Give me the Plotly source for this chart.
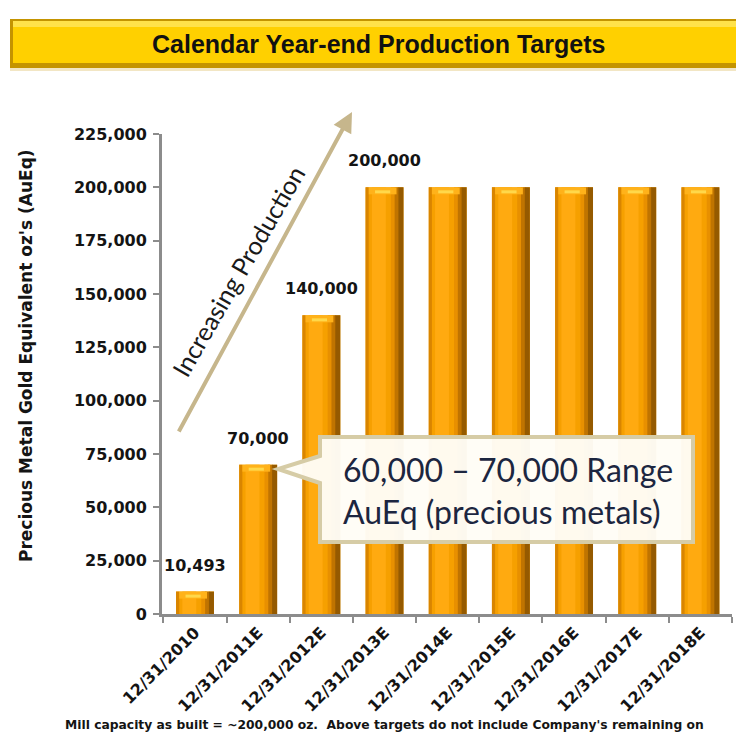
import plotly.graph_objects as go

# Production targets (gold-equivalent ounces) by calendar year end
periods = ["12/31/2010", "12/31/2011E", "12/31/2012E", "12/31/2013E", "12/31/2014E",
           "12/31/2015E", "12/31/2016E", "12/31/2017E", "12/31/2018E"]
ounces = [10493, 70000, 140000, 200000, 200000, 200000, 200000, 200000, 200000]
labelled = [True, True, True, True, False, False, False, False, False]
y_ticks = [0, 25000, 50000, 75000, 100000, 125000, 150000, 175000, 200000, 225000]

title_text = "Calendar Year-end Production Targets"
y_title = "Precious Metal Gold Equivalent oz's (AuEq)"
arrow_text = "Increasing Production"
callout_text = "60,000 \u2013 70,000 Range<br>AuEq (precious metals)"
footnote = ("Mill capacity as built = ~200,000 oz.  Above targets do not include "
            "Company's remaining on")

# figure geometry (pixels)
FW, FH = 736, 735
PL, PR, PT, PB = 162, 732, 134, 614
Y_MAX = 225000


def px(x):
    return (x - PL) / (PR - PL)


def py(y):
    return (PB - y) / (PB - PT)


fig = go.Figure()

# bevelled bars built from overlaid strips
strips = [
    (-0.30, 0.60, "#F6A000"),
    (-0.30, 0.05, "#D98500"),
    (-0.20, 0.22, "#FFAA10"),
    (0.10, 0.08, "#E89000"),
    (0.16, 0.07, "#C07400"),
    (0.22, 0.08, "#955A00"),
]
for off, wid, col in strips:
    fig.add_trace(go.Bar(x=periods, y=ounces, offset=off, width=wid,
                         marker=dict(color=col, line=dict(width=0)),
                         hoverinfo="skip", showlegend=False))

# top bevel highlight
cap = Y_MAX * 7 / (PB - PT)
fig.add_trace(go.Bar(x=periods, y=[cap] * len(ounces), base=[v - cap for v in ounces],
                     offset=-0.25, width=0.44,
                     marker=dict(color="#FFB21A", line=dict(width=0)),
                     hoverinfo="skip", showlegend=False))
hl = Y_MAX * 3 / (PB - PT)
fig.add_trace(go.Bar(x=periods, y=[hl] * len(ounces), base=[v - 2 * hl for v in ounces],
                     offset=-0.15, width=0.24,
                     marker=dict(color="#FFD84A", line=dict(width=0)),
                     hoverinfo="skip", showlegend=False))

# value labels above the first bars
for p, v, show in zip(periods, ounces, labelled):
    if show:
        fig.add_annotation(x=p, y=v, text=f"{v:,}", showarrow=False,
                           xanchor="center", yanchor="bottom", yshift=15,
                           font=dict(family="DejaVu Sans", size=16, color="#141414",
                                     weight="bold"))

shapes = []

# title banner
shapes.append(dict(type="rect", xref="paper", yref="paper",
                   x0=px(10), x1=px(750), y0=py(68), y1=py(19),
                   fillcolor="#C49400", line=dict(width=0), layer="above"))
shapes.append(dict(type="rect", xref="paper", yref="paper",
                   x0=px(13), x1=px(750), y0=py(63), y1=py(21),
                   fillcolor="#FFD000", line=dict(width=0), layer="above"))
shapes.append(dict(type="rect", xref="paper", yref="paper",
                   x0=px(13), x1=px(750), y0=py(27), y1=py(21),
                   fillcolor="#FFE24A", line=dict(width=0), layer="above"))
shapes.append(dict(type="rect", xref="paper", yref="paper",
                   x0=px(10), x1=px(750), y0=py(71), y1=py(68),
                   fillcolor="#F2E6C4", line=dict(width=0), layer="above"))

# callout box with pointer
pts = [(320, 437), (693, 437), (693, 542), (320, 542), (320, 483), (278, 469), (320, 456)]
path = "M " + " L ".join(f"{px(a):.5f},{py(b):.5f}" for a, b in pts) + " Z"
shapes.append(dict(type="path", xref="paper", yref="paper", path=path,
                   fillcolor="rgba(255,253,246,0.97)",
                   line=dict(color="#D6CCA6", width=4), layer="above"))

fig.update_layout(shapes=shapes)

fig.add_annotation(xref="paper", yref="paper", x=px(378), y=py(44),
                   xanchor="center", yanchor="middle",
                   text=title_text, showarrow=False,
                   font=dict(family="Liberation Sans Narrow, Liberation Sans, Arial",
                             size=25, color="#111111", weight="bold"))

fig.add_annotation(xref="paper", yref="paper", x=px(341), y=py(490),
                   xanchor="left", yanchor="middle", align="left",
                   text=callout_text, showarrow=False,
                   font=dict(family="Lato", size=32, color="#1C2640"))

# production arrow
fig.add_annotation(xref="paper", yref="paper", x=px(352), y=py(112),
                   axref="pixel", ayref="pixel", ax=178 - 352, ay=433 - 112,
                   text="", showarrow=True, arrowhead=2, arrowsize=1.0,
                   arrowwidth=4, arrowcolor="#C6B68C")
fig.add_annotation(xref="paper", yref="paper", x=px(238), y=py(271),
                   xanchor="center", yanchor="middle",
                   text=arrow_text, showarrow=False, textangle=-60,
                   font=dict(family="Lato", size=25, color="#1a1a1a"))

# axis title
fig.add_annotation(xref="paper", yref="paper", x=px(26), y=py(356),
                   xanchor="center", yanchor="middle",
                   text=y_title, showarrow=False, textangle=-90,
                   font=dict(family="DejaVu Sans", size=17, color="#141414",
                             weight="bold"))

# footnote
fig.add_annotation(xref="paper", yref="paper", x=px(63), y=py(734),
                   xanchor="left", yanchor="bottom",
                   text=footnote, showarrow=False,
                   font=dict(family="DejaVu Sans", size=12.3, color="#141414",
                             weight="bold"))

tick_font = dict(family="DejaVu Sans", size=16, color="#141414", weight="bold")
fig.update_layout(
    width=FW, height=FH,
    margin=dict(l=PL, r=FW - PR, t=PT, b=FH - PB),
    paper_bgcolor="white", plot_bgcolor="white",
    barmode="overlay", bargap=0.4,
    showlegend=False,
    xaxis=dict(type="category", tickangle=-45, tickson="boundaries",
               ticks="outside", ticklen=6, tickwidth=2, tickcolor="#8C8C8C",
               showline=True, linecolor="#8C8C8C", linewidth=3,
               showgrid=False, zeroline=False, tickfont=tick_font),
    yaxis=dict(range=[0, Y_MAX], tickvals=y_ticks, tickformat=",",
               ticks="outside", ticklen=6, tickwidth=2, tickcolor="#8C8C8C",
               showline=True, linecolor="#8C8C8C", linewidth=3,
               showgrid=False, zeroline=False, tickfont=tick_font,
               ticklabelstandoff=3),
)

fig.write_html("out.html")
